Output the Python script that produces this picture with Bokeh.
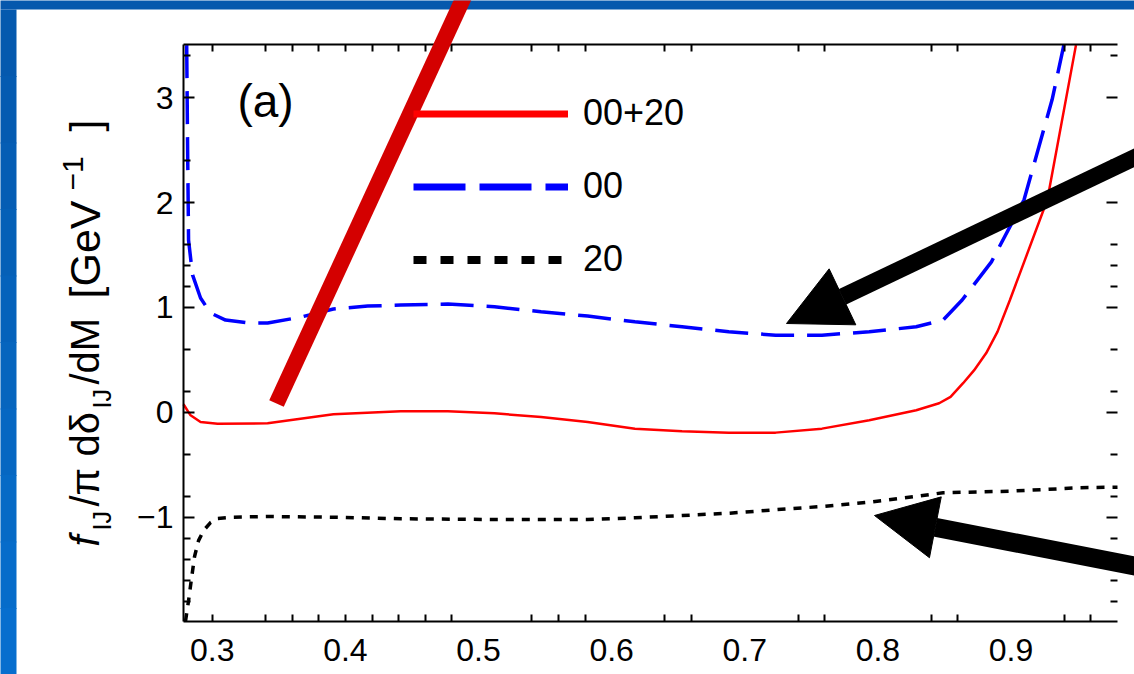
import numpy as np
from bokeh.plotting import figure
from bokeh.models import (Range1d, LinearAxis, FixedTicker, BoxAnnotation, Arrow,
                          NormalHead, Label, Legend, LegendItem)
from bokeh.embed import file_html
from bokeh.resources import INLINE

# ---------------- data ----------------
m_sum = [0.2784, 0.2837, 0.2912, 0.304, 0.3416, 0.391, 0.4416, 0.477, 0.512, 0.547,
         0.582, 0.6175, 0.6529, 0.688, 0.7232, 0.758, 0.7935, 0.8288, 0.846, 0.8546,
         0.864, 0.8722, 0.8814, 0.8899, 0.8992, 0.9273, 0.9488]
f_sum = [0.077, -0.028, -0.092, -0.109, -0.104, -0.018, 0.010, 0.010, -0.009, -0.045,
         -0.092, -0.155, -0.181, -0.193, -0.193, -0.155, -0.075, 0.020, 0.087, 0.148,
         0.278, 0.40, 0.565, 0.77, 1.071, 2.026, 3.50]

m_00 = [0.2808, 0.2815, 0.2822, 0.2852, 0.2912, 0.2987, 0.31, 0.3288, 0.3416, 0.3664,
        0.391, 0.4168, 0.4416, 0.477, 0.512, 0.547, 0.582, 0.6175, 0.6529, 0.688,
        0.7232, 0.758, 0.7935, 0.8288, 0.849, 0.8633, 0.8853, 0.9098, 0.9309, 0.9397]
f_00 = [3.50, 2.50, 1.64, 1.31, 1.09, 0.947, 0.88, 0.851, 0.851, 0.908,
        0.985, 1.013, 1.023, 1.032, 1.007, 0.959, 0.918, 0.863, 0.816, 0.768,
        0.736, 0.736, 0.768, 0.816, 0.880, 1.071, 1.434, 2.026, 2.981, 3.50]

m_20 = [0.2799, 0.2822, 0.2845, 0.2867, 0.2897, 0.2935, 0.2987, 0.304, 0.316, 0.3416,
        0.391, 0.4416, 0.512, 0.582, 0.6175, 0.6529, 0.688, 0.7232, 0.758, 0.7935,
        0.8288, 0.849, 0.8992, 0.952, 0.98]
f_20 = [-1.99, -1.795, -1.575, -1.374, -1.222, -1.126, -1.050, -1.011, -0.999, -0.992,
        -0.999, -1.014, -1.021, -1.021, -1.005, -0.983, -0.961, -0.928, -0.897, -0.856,
        -0.801, -0.766, -0.751, -0.718, -0.713]

series_names = ["00+20", "00", "20"]
panel_tag = "(a)"

x_ticks = [0.3, 0.4, 0.5, 0.6, 0.7, 0.8, 0.9]
x_tick_labels = ["0.3", "0.4", "0.5", "0.6", "0.7", "0.8", "0.9"]
x_minor = [0.3, 0.34, 0.36, 0.38, 0.4, 0.42, 0.44, 0.46, 0.48, 0.54, 0.56, 0.58,
           0.64, 0.66, 0.74, 0.76, 0.84, 0.86, 0.94, 0.96]
y_ticks = [-1, 0, 1, 2, 3]
y_tick_labels = ["\u22121", "0", "1", "2", "3"]
y_minor = [-1.8, -1.6, -1.4, -1.2, -0.8, -0.4, 0.2, 0.6, 1.2, 1.4, 1.6, 2.4, 3.4]

# y-axis title pieces: text, start (px from top), baseline (px from left), size, style
ylabel_pieces = [("f", 546, 84, 40, "italic"), ("IJ", 530, 101, 25, "normal"),
                 ("/\u03c0", 506, 84, 40, "normal"), ("d\u03b4", 456, 84, 40, "normal"),
                 ("IJ", 408, 101, 25, "normal"), ("/dM", 384, 84, 40, "normal"),
                 ("[GeV", 298, 84, 43, "normal"), ("\u22121", 190, 72, 30, "normal"),
                 ("]", 131, 84, 43, "normal")]

# ---------------- layout ----------------
W, H = 1134, 674
FL, FR, FT, FB = 183, 1117, 44, 621      # plot box in pixels
X0, X1 = 0.2784, 0.980                   # data limits of the plot box
Y0, Y1 = -1.993, 3.506
FONT = "Liberation Sans"
KX = (X1 - X0) / (FR - FL)
KY = (Y1 - Y0) / (FB - FT)


def dx(px):
    return X0 + (px - FL) * KX


def dy(py):
    return Y1 - (py - FT) * KY


# the frame spans the whole canvas; axes are pinned to the plot box
p = figure(width=W, height=H, x_range=Range1d(dx(0), dx(W)), y_range=Range1d(dy(H), dy(0)),
           output_backend="svg", toolbar_location=None,
           x_axis_location=None, y_axis_location=None,
           min_border=0, min_border_left=0, min_border_right=0,
           min_border_top=0, min_border_bottom=0)
p.outline_line_color = None
p.background_fill_color = "white"
p.border_fill_color = "white"
for g in p.grid:
    g.visible = False
p.xgrid.grid_line_color = None
p.ygrid.grid_line_color = None


def style_axis(ax, labels, show_line=True, major_in=11):
    ax.axis_line_color = "black" if show_line else None
    ax.axis_line_width = 2
    ax.major_tick_in = major_in
    ax.major_tick_out = 0
    ax.minor_tick_in = 7
    ax.minor_tick_out = 0
    ax.major_tick_line_width = 2
    ax.minor_tick_line_width = 2
    ax.major_tick_line_color = "black"
    ax.minor_tick_line_color = "black"
    ax.major_label_text_font = FONT
    ax.major_label_text_font_size = "32px"
    ax.major_label_text_color = "black"
    ax.major_label_overrides = labels


xlab = {float(t): l for t, l in zip(x_ticks, x_tick_labels)}
xnone = {float(t): "" for t in x_ticks}
ylab = {float(t): l for t, l in zip(y_ticks, y_tick_labels)}
ynone = {float(t): "" for t in y_ticks}

ax_b = LinearAxis(ticker=FixedTicker(ticks=x_ticks, minor_ticks=x_minor),
                  fixed_location=Y0, bounds=(X0, X1))
style_axis(ax_b, xlab, major_in=0)
ax_b.major_label_standoff = 17
p.add_layout(ax_b, "below")

ax_t = LinearAxis(ticker=FixedTicker(ticks=x_ticks, minor_ticks=x_minor),
                  fixed_location=Y1, bounds=(X0, X1))
style_axis(ax_t, xnone, major_in=0)
p.add_layout(ax_t, "above")

ax_l = LinearAxis(ticker=FixedTicker(ticks=y_ticks, minor_ticks=y_minor),
                  fixed_location=X0, bounds=(Y0, Y1))
style_axis(ax_l, ylab)
ax_l.major_label_standoff = 10
p.add_layout(ax_l, "left")

ax_r = LinearAxis(ticker=FixedTicker(ticks=y_ticks, minor_ticks=y_minor),
                  fixed_location=X1, bounds=(Y0, Y1))
style_axis(ax_r, ynone, show_line=False)
p.add_layout(ax_r, "right")

# ---------------- curves ----------------
p.line(m_sum, f_sum, line_color="#FF0000", line_width=2.5)
p.line(m_00, f_00, line_color="#0000FF", line_width=3.5, line_dash="33 13")
p.line(m_20, f_20, line_color="black", line_width=3.5, line_dash="8 8")

# legend samples (thicker, as in the picture); hidden renderers used only by the legend
r1 = p.line(m_sum, f_sum, line_color="#FF0000", line_width=7, visible=False)
r2 = p.line(m_00, f_00, line_color="#0000FF", line_width=7, line_dash="52 14", visible=False)
r3 = p.line(m_20, f_20, line_color="black", line_width=8, line_dash="13 14", visible=False)

# ---------------- slide decoration: blue frame ----------------
p.add_layout(BoxAnnotation(left=dx(-20), right=dx(W + 20), top=dy(-20), bottom=dy(9),
                           fill_color="#0558AD", fill_alpha=1, line_color=None))
left_cols = ["#0559AE", "#055BB1", "#055DB4", "#0560B7", "#0562BB", "#0665BE",
             "#0667C2", "#066AC6", "#066CCA", "#076ECE"]
nb = len(left_cols)
for i, c in enumerate(left_cols):
    top_px = 9 + i * (H - 9) / nb
    bot_px = 9 + (i + 1) * (H - 9) / nb + 1
    p.add_layout(BoxAnnotation(left=dx(-20), right=dx(16), top=dy(top_px), bottom=dy(bot_px),
                               fill_color=c, fill_alpha=1, line_color=None))

legend = Legend(items=[LegendItem(label=series_names[0], renderers=[r1]),
                       LegendItem(label=series_names[1], renderers=[r2]),
                       LegendItem(label=series_names[2], renderers=[r3])],
                location=(413, H - 295.5), glyph_width=155, glyph_height=73, label_height=73,
                label_standoff=15, padding=0, margin=0, spacing=0,
                border_line_color=None, background_fill_alpha=0,
                inactive_fill_alpha=0,
                label_text_font=FONT, label_text_font_size="36px",
                label_text_baseline="middle", label_text_color="black")
p.add_layout(legend)

p.add_layout(Label(x=dx(265), y=dy(100), text=panel_tag, text_align="center",
                   text_baseline="middle", text_font=FONT, text_font_size="46px",
                   text_color="black"))

for txt, start, bx, size, style in ylabel_pieces:
    p.add_layout(Label(x=dx(bx), y=dy(start), text=txt, angle=np.pi / 2,
                       text_align="left", text_baseline="alphabetic",
                       text_font=FONT, text_font_size=f"{size}px",
                       text_font_style=style, text_color="black"))

# ---------------- slide decoration: pointer marks ----------------
p.add_layout(Arrow(start=None, end=None, x_start=dx(276), y_start=dy(403),
                   x_end=dx(471), y_end=dy(-20), line_color="#D40000", line_width=16))
p.add_layout(Arrow(end=NormalHead(size=62, fill_color="black", line_color="black"),
                   x_start=dx(1147), y_start=dy(151), x_end=dx(786), y_end=dy(323),
                   line_color="black", line_width=17))
p.add_layout(Arrow(end=NormalHead(size=62, fill_color="black", line_color="black"),
                   x_start=dx(1168), y_start=dy(572), x_end=dx(874), y_end=dy(515),
                   line_color="black", line_width=19))

open("out.html", "w").write(file_html(p, INLINE))
